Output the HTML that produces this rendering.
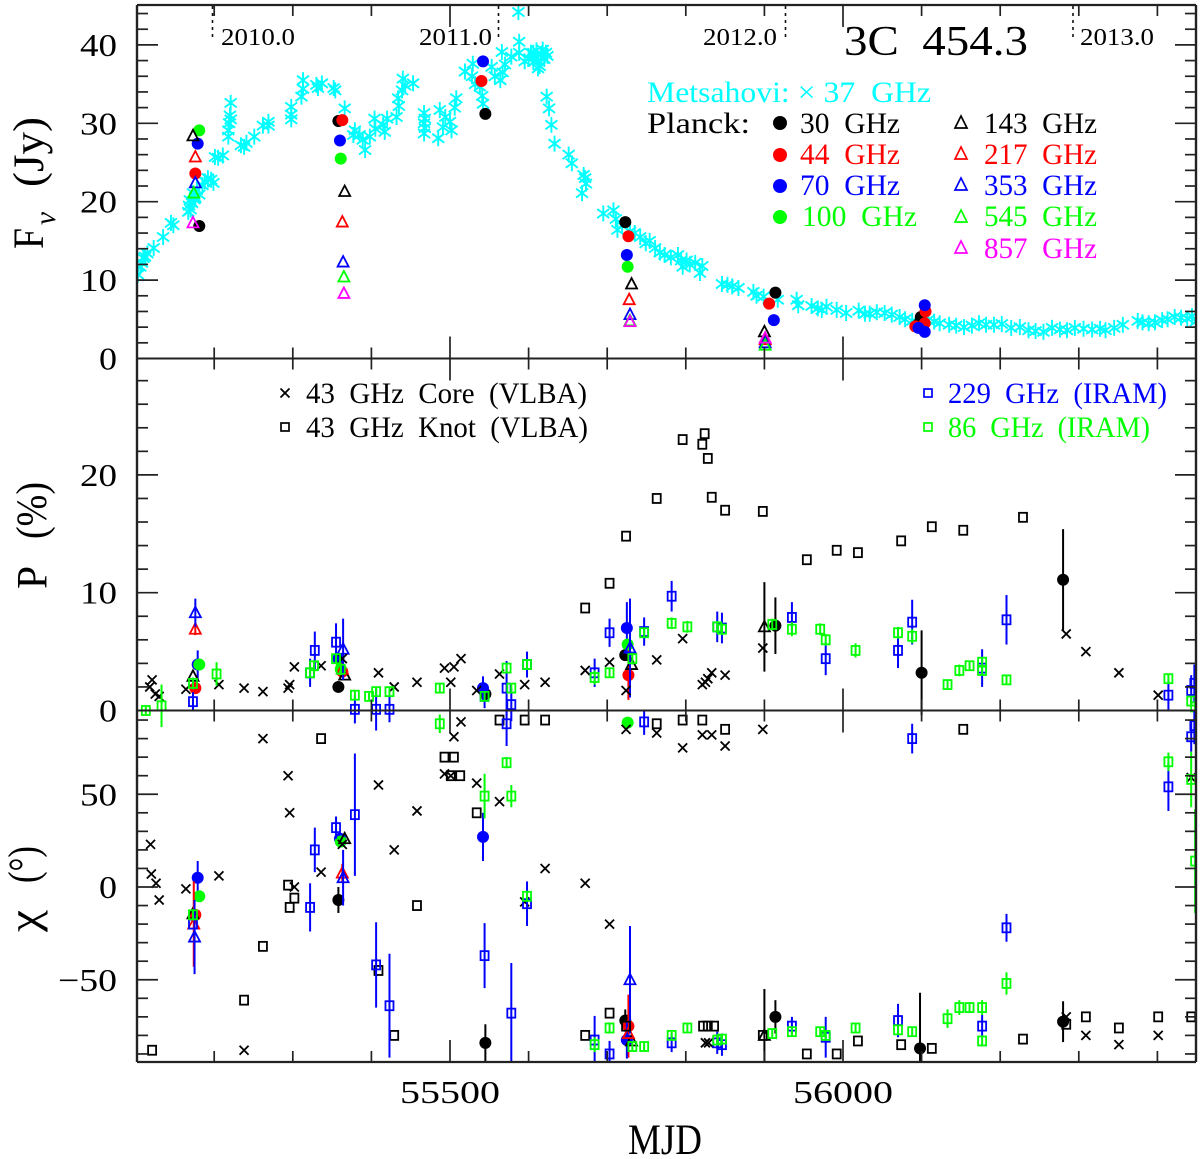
<!DOCTYPE html>
<html>
<head>
<meta charset="utf-8">
<title>3C 454.3 light curve and polarization</title>
<style>
html,body{margin:0;padding:0;background:#fff;}
svg{display:block;}
text{font-family:"Liberation Serif",serif;}
</style>
</head>
<body>
<svg id="chart" xmlns="http://www.w3.org/2000/svg" width="1200" height="1159" viewBox="0 0 1200 1159">
<defs>
<clipPath id="clip-frame"><rect x="137" y="5" width="1059" height="1057"/></clipPath>
<clipPath id="clip-chi"><rect x="137" y="710" width="1059" height="352"/></clipPath>
</defs>
<g id="marks-flux" clip-path="url(#clip-frame)"></g>
<g id="marks-pol" clip-path="url(#clip-frame)"></g>
<g id="marks-chi" clip-path="url(#clip-chi)"></g>
<g id="axes"></g>

<g stroke="#111" stroke-width="1.6" stroke-dasharray="3 4">
<line x1="212.5" y1="6" x2="212.5" y2="38"/>
<line x1="498.5" y1="6" x2="498.5" y2="38"/>
<line x1="785.5" y1="6" x2="785.5" y2="38"/>
<line x1="1073" y1="6" x2="1073" y2="38"/>
</g>
<text x="221" y="45" font-size="24" textLength="74" lengthAdjust="spacingAndGlyphs">2010.0</text>
<text x="419" y="45" font-size="24" textLength="73" lengthAdjust="spacingAndGlyphs">2011.0</text>
<text x="703" y="45" font-size="24" textLength="74" lengthAdjust="spacingAndGlyphs">2012.0</text>
<text x="1080" y="45" font-size="24" textLength="74" lengthAdjust="spacingAndGlyphs">2013.0</text>
<text x="844" y="55" font-size="42" textLength="184" lengthAdjust="spacingAndGlyphs" xml:space="preserve">3C  454.3</text>

<g font-size="30">
<text x="647" y="102" fill="#00ffff" textLength="284" lengthAdjust="spacingAndGlyphs" xml:space="preserve">Metsahovi: × 37  GHz</text>
<text x="647" y="133" textLength="103" lengthAdjust="spacingAndGlyphs">Planck:</text>
<circle cx="780" cy="123" r="7" fill="#000"/>
<text x="800" y="133" textLength="100" lengthAdjust="spacingAndGlyphs" xml:space="preserve">30  GHz</text>
<circle cx="780" cy="155" r="7" fill="#f00"/>
<text x="800" y="164" fill="#f00" textLength="100" lengthAdjust="spacingAndGlyphs" xml:space="preserve">44  GHz</text>
<circle cx="780" cy="186" r="7" fill="#00f"/>
<text x="800" y="195" fill="#00f" textLength="100" lengthAdjust="spacingAndGlyphs" xml:space="preserve">70  GHz</text>
<circle cx="780" cy="217" r="7" fill="#0f0"/>
<text x="802" y="226" fill="#0f0" textLength="115" lengthAdjust="spacingAndGlyphs" xml:space="preserve">100  GHz</text>
<polygon points="961,116 967,128 955,128" fill="none" stroke="#000" stroke-width="1.7"/>
<text x="984" y="133" textLength="113" lengthAdjust="spacingAndGlyphs" xml:space="preserve">143  GHz</text>
<polygon points="961,147 967,159 955,159" fill="none" stroke="#f00" stroke-width="1.7"/>
<text x="984" y="164" fill="#f00" textLength="113" lengthAdjust="spacingAndGlyphs" xml:space="preserve">217  GHz</text>
<polygon points="961,178 967,190 955,190" fill="none" stroke="#00f" stroke-width="1.7"/>
<text x="984" y="195" fill="#00f" textLength="113" lengthAdjust="spacingAndGlyphs" xml:space="preserve">353  GHz</text>
<polygon points="961,210 967,222 955,222" fill="none" stroke="#0f0" stroke-width="1.7"/>
<text x="984" y="226" fill="#0f0" textLength="113" lengthAdjust="spacingAndGlyphs" xml:space="preserve">545  GHz</text>
<polygon points="961,241 967,253 955,253" fill="none" stroke="#f0f" stroke-width="1.7"/>
<text x="984" y="258" fill="#f0f" textLength="113" lengthAdjust="spacingAndGlyphs" xml:space="preserve">857  GHz</text>
</g>

<g font-size="30">
<path d="M280.5 388.5l9 9m0-9l-9 9" stroke="#000" stroke-width="1.8" fill="none"/>
<text x="306" y="403" textLength="281" lengthAdjust="spacingAndGlyphs" xml:space="preserve">43  GHz  Core  (VLBA)</text>
<rect x="281" y="423" width="8" height="8" fill="none" stroke="#000" stroke-width="1.7"/>
<text x="306" y="437" textLength="282" lengthAdjust="spacingAndGlyphs" xml:space="preserve">43  GHz  Knot  (VLBA)</text>
<rect x="924" y="389" width="8" height="8" fill="none" stroke="#00f" stroke-width="1.7"/>
<text x="948" y="403" fill="#00f" textLength="219" lengthAdjust="spacingAndGlyphs" xml:space="preserve">229  GHz  (IRAM)</text>
<rect x="924" y="423" width="8" height="8" fill="none" stroke="#0f0" stroke-width="1.7"/>
<text x="948" y="437" fill="#0f0" textLength="202" lengthAdjust="spacingAndGlyphs" xml:space="preserve">86  GHz  (IRAM)</text>
</g>

<g>
<g>
<text transform="translate(43,249) rotate(-90)" font-size="43" textLength="21" lengthAdjust="spacingAndGlyphs">F</text>
<text transform="translate(55,225) rotate(-90)" font-size="30" font-style="italic" textLength="13" lengthAdjust="spacingAndGlyphs">ν</text>
<text transform="translate(43,187) rotate(-90)" font-size="43" textLength="70" lengthAdjust="spacingAndGlyphs">(Jy)</text>
</g>
<g>
<text transform="translate(46.5,589) rotate(-90)" font-size="43" textLength="23" lengthAdjust="spacingAndGlyphs">P</text>
<text transform="translate(46,539) rotate(-90)" font-size="43" textLength="57" lengthAdjust="spacingAndGlyphs">(%)</text>
</g>
<g>
<text transform="translate(38,932) rotate(-90)" font-size="43" textLength="22" lengthAdjust="spacingAndGlyphs">χ</text>
<text transform="translate(38,883) rotate(-90)" font-size="43" textLength="37" lengthAdjust="spacingAndGlyphs">(°)</text>
</g>
<text x="628" y="1154" font-size="43" textLength="74" lengthAdjust="spacingAndGlyphs">MJD</text>
</g>

<script>
// ---- tick values ----
const mjdMajorTicks = [55500, 56000];
const mjdTickLabels = ["55500", "56000"];
const mjdMinorStep = 100;
const fluxTickValues = [0, 10, 20, 30, 40];
const polTickValues = [0, 10, 20];
const chiTickValues = [-50, 0, 50];

// ---- Metsahovi 37 GHz: [MJD, Jy] ----
const metsahovi = [[55103,10.7],[55106,11.7],[55108,12.2],[55110,12.8],[55112,13],[55115,13.4],[55123,14.1],[55135,15.5],[55145,17.3],[55148,17],[55167,18.7],[55168,19.5],[55169,20.2],[55170,19],[55172,19.8],[55173,21.1],[55175,20.3],[55176,20.5],[55178,21.5],[55181,20.9],[55185,22.1],[55188,22.6],[55192,23],[55196,22.8],[55199,22.4],[55201,25.7],[55205,25.6],[55211,25.9],[55218,28.3],[55218,29.1],[55219,30],[55220,31],[55221,30.5],[55221,32.6],[55234,27.2],[55238,27],[55241,27.5],[55251,28.3],[55262,29.7],[55269,30.2],[55269,29.7],[55298,31.1],[55298,30.5],[55298,32.1],[55311,33.4],[55313,35.5],[55313,34.4],[55330,34.9],[55332,34.5],[55337,35.1],[55352,34.5],[55354,34.2],[55366,31.9],[55377,28.5],[55379,29.1],[55385,28.5],[55389,27.9],[55392,26.6],[55398,28.3],[55404,30.6],[55405,29.3],[55415,29.8],[55417,28.9],[55420,30.6],[55432,30.8],[55434,33.2],[55435,32.2],[55439,34.2],[55440,35.7],[55443,34.8],[55453,35.1],[55467,31.3],[55467,30],[55467,28.7],[55468,29.4],[55468,30.6],[55485,28.1],[55487,31.7],[55491,29.5],[55494,30.8],[55500,30.2],[55502,29.1],[55506,32],[55508,33.2],[55519,36.6],[55528,36],[55529,37.6],[55532,35],[55538,34.7],[55541,33.5],[55542,32.5],[55553,37.2],[55557,36],[55564,35.5],[55566,39.1],[55567,36.5],[55570,37.5],[55578,38.5],[55587,44.2],[55588,40.4],[55588,39],[55595,37.9],[55600,38.2],[55603,39],[55606,37.8],[55606,39],[55608,38.5],[55610,39.3],[55612,38],[55612,37],[55614,37.3],[55616,38.8],[55618,39.4],[55620,38.2],[55622,39],[55624,38.6],[55623,33.4],[55626,31.9],[55629,29.8],[55633,27.4],[55651,26],[55655,24.9],[55668,21.1],[55670,23.4],[55672,23],[55673,22.3],[55695,18.5],[55708,18.9],[55711,17.8],[55713,16.4],[55719,17],[55729,16.2],[55735,16],[55742,15.5],[55749,14.7],[55754,15],[55761,14.1],[55767,13.5],[55773,13.2],[55781,12.9],[55790,13.2],[55794,12.5],[55796,11.7],[55801,12.5],[55805,12],[55812,12.2],[55818,10.9],[55821,11.8],[55846,9.5],[55853,9.4],[55859,9.2],[55867,9],[55886,8.5],[55890,8],[55899,7.9],[55917,7.5],[55941,7.5],[55943,6.8],[55960,6.7],[55968,6.4],[55973,6.2],[55979,6.6],[55992,6.2],[56004,5.8],[56020,6.1],[56028,5.7],[56034,5.7],[56043,5.9],[56053,5.8],[56062,5.6],[56072,5.3],[56079,5],[56088,4.8],[56108,4.9],[56116,4.7],[56123,4.5],[56135,4.3],[56144,4.2],[56154,4],[56164,4.2],[56173,4.5],[56182,4.3],[56192,4.3],[56202,4.4],[56214,3.9],[56225,4],[56236,3.6],[56245,3.5],[56255,3.4],[56266,3.9],[56276,3.7],[56285,3.6],[56295,3.9],[56306,3.8],[56317,3.7],[56327,3.8],[56334,3.6],[56345,3.9],[56356,4.3],[56375,4.8],[56381,4.6],[56389,4.5],[56397,4.6],[56406,4.9],[56413,5],[56422,5.3],[56430,5.2],[56438,5.1],[56444,5.4],[56449,4.7]];

// ---- Planck flux density: [MJD, Jy] ----
const flux30 = [[55181,16.9],[55358,30.3],[55545,31.2],[55723,17.4],[55914,8.4],[56099,5.3],[56096,4.4]];
const flux44 = [[55176,23.6],[55363,30.4],[55540,35.4],[55727,15.6],[55906,7],[56105,6],[56104,4.5],[56092,4.1]];
const flux70 = [[55179,27.4],[55360,27.8],[55542,37.9],[55725,13.2],[55912,4.9],[56104,6.8],[56096,3.9],[56104,3.4]];
const flux100 = [[55181,29.1],[55361,25.5],[55726,11.7]];
const flux143 = [[55173,28.4],[55366,21.3],[55731,9.5],[55900,3.4]];
const flux217 = [[55176,25.7],[55363,17.4],[55728,7.5],[55901,2.4]];
const flux353 = [[55176,22.4],[55364,12.3],[55729,5.6],[55901,2]];
const flux545 = [[55174,21.1],[55365,10.4],[55729,4.8],[55901,1.7]];
const flux857 = [[55173,17.3],[55365,8.3],[55729,4.7],[55901,2.6]];

// ---- Planck polarization fraction: [MJD, %, error] ----
const pol30 = [[55358,2,0],[55545,1.4,0],[55723,4.7,0],[55914,7.2,2.4],[56100,3.2,3.6],[56280,11.1,4.3]];
const pol44 = [[55176,1.9,0],[55363,3.3,0],[55727,3,2.1]];
const pol70 = [[55179,3.9,1.2],[55358,4.4,0],[55542,1.9,1],[55725,7,2.2]];
const pol100 = [[55181,3.9,0],[55361,3.5,0],[55726,5.6,0]];
const pol143 = [[55173,2.9,0],[55366,3,0],[55731,3.9,0],[55900,7.1,3.8]];
const pol217 = [[55176,6.9,0.5],[55363,3.5,0]];
const pol353 = [[55176,8.3,1.2],[55364,5.2,2.6],[55729,5.3,4.2]];

// ---- Planck polarization angle: [MJD, deg, error] ----
const chi30 = [[55358,-7,7],[55545,-84,10],[55723,-72,6],[55914,-70,9],[56098,-87,30],[56280,-72.6,11]];
const chi44 = [[55176,-15,0],[55727,-75,17]];
const chi70 = [[55179,5,9],[55360,26,0],[55542,27,13],[55725,-82.5,10]];
const chi100 = [[55181,-5,0],[55361,24.5,0],[55726,88.6,3]];
const chi143 = [[55173,-14.5,0],[55366,26,0],[55731,-83,0],[55900,-80,25]];
const chi217 = [[55174,-20,23],[55363,7.5,5],[55727,-79,0]];
const chi353 = [[55175,-27,20],[55364,5,15],[55729,-50,29]];

// ---- VLBA 43 GHz: [MJD, value] ----
const polCore = [[55118,2],[55121,2.6],[55125,1.4],[55130,1.2],[55164,1.8],[55206,2.2],[55238,1.9],[55262,1.6],[55294,1.9],[55296,2.2],[55302,3.7],[55336,3.8],[55363,4.4],[55409,3.2],[55429,2],[55458,2.4],[55493,3.6],[55501,2.4],[55505,3.7],[55514,4.4],[55534,1.7],[55563,3.1],[55595,2.2],[55621,2.4],[55672,3.4],[55703,4.1],[55724,1.7],[55763,4.3],[55796,6.1],[55821,2.2],[55825,2.4],[55828,2.7],[55833,3.2],[55850,3],[55898,5.3],[56284,6.5],[56309,5],[56351,3.2],[56401,1.3]];
const polKnot = [[55672,8.7],[55703,10.8],[55724,14.8],[55763,18],[55796,23],[55821,22.6],[55824,23.5],[55828,21.4],[55833,18.1],[55850,17],[55898,16.9],[55954,12.8],[55992,13.6],[56019,13.4],[56074,14.4],[56113,15.6],[56153,15.3],[56229,16.4]];
const chiCore = [[55119,23],[55120,7],[55126,2],[55130,-7],[55164,-1],[55206,6],[55238,-88],[55262,80],[55294,60],[55296,40],[55302,0],[55336,8],[55363,23],[55409,55],[55429,20],[55458,41],[55493,61],[55501,60],[55505,81],[55514,89],[55534,56],[55563,46],[55595,-8],[55621,10],[55672,2],[55703,-20],[55724,85],[55763,83],[55796,75],[55821,82],[55833,82],[55850,76],[55825,-84],[55829,-84],[55898,85],[56284,-70],[56309,-80],[56351,-85],[56401,-80],[56443,59]];
const chiKnot = [[55121,-88],[55238,-61],[55262,-32],[55294,1],[55296,-11],[55302,-6],[55336,80],[55409,-45],[55429,-80],[55458,-10],[55493,70],[55505,70],[55501,60],[55513,60],[55534,40],[55563,90],[55595,90],[55621,90],[55672,-80],[55703,-68],[55724,-75],[55763,88],[55796,90],[55821,90],[55850,85],[55822,-75],[55828,-75],[55836,-75],[55898,-80],[55954,-90],[55992,-90],[56019,-83],[56074,-85],[56113,-87],[56153,85],[56229,-82],[56284,-74],[56309,-70],[56351,-76],[56401,-70],[56443,-70]];

// ---- IRAM: [MJD, value, error] ----
const pol229 = [[55173,0.75,0.8],[55322,3.2,1.2],[55328,5.1,1.6],[55355,5.8,1.6],[55379,0.1,1.2],[55406,0.1,1.8],[55423,0.1,1.1],[55544,1.2,1],[55572,1.9,2.3],[55578,0.5,1.4],[55598,3.9,1.1],[55684,3.2,1.2],[55703,6.6,1.2],[55747,6.7,1.2],[55782,9.7,1.3],[55840,7.1,1.3],[55846,7,1.3],[55935,7.9,1.3],[55978,4.4,1.4],[56070,5.1,1.5],[56088,7.5,1.9],[56177,3.6,1.6],[56208,7.7,2.1],[56414,1.3,1.3],[56443,1.7,1.3],[56447,2.3,1.6]];
const pol86 = [[55113,0,0.3],[55133,0.4,1.8],[55173,2.3,0.5],[55203,3.1,1],[55322,3.2,0.4],[55327,3.8,0.4],[55355,4.4,0.4],[55361,3.5,0.5],[55379,1.3,0.4],[55397,1.2,0.3],[55406,1.6,0.4],[55423,1.6,0.4],[55487,1.9,0.4],[55544,1.2,0.4],[55572,3.6,0.4],[55578,1.9,0.4],[55598,3.9,0.4],[55684,2.8,0.6],[55703,3.2,0.4],[55732,4.4,0.5],[55747,6.6,0.4],[55782,7.4,0.5],[55802,7.1,0.5],[55840,7.1,0.5],[55846,6.9,0.5],[55910,7.3,0.5],[55935,6.9,0.6],[55971,6.9,0.5],[55978,6,0.5],[56016,5.1,0.6],[56070,6.6,0.5],[56088,6.3,0.6],[56133,2.2,0.4],[56148,3.4,0.5],[56161,3.8,0.4],[56177,4.1,0.4],[56177,3.4,0.4],[56208,2.6,0.4],[56414,2.7,0.4],[56443,0.8,0.4],[56448,0.3,0.4]];
const chi229 = [[55173,-20,0],[55322,-11,13],[55328,20,12],[55355,32,6],[55379,39,33],[55406,-42,23],[55423,-64,28],[55544,-37,17.5],[55572,88,12],[55578,-68,27],[55598,-9,12],[55684,-82.5,13],[55703,-90,7],[55747,89,7],[55782,-84,5],[55840,-84,6],[55846,-85,6],[55935,-75,5],[55978,-81,11],[56070,-72,9],[56088,80,8],[56177,-75,6],[56208,-22,7.5],[56414,54,13],[56443,81,8],[56447,87,10]];
const chi86 = [[55173,-15,3],[55487,88,5],[55544,49,12],[55572,67,3],[55578,49,6],[55598,-5,3],[55684,-85,4],[55703,-76,3],[55732,-86,2],[55747,-86,2],[55782,-80,2],[55802,-76,2],[55840,-82.5,2],[55846,-82,2],[55910,-79,2],[55935,-78,2],[55971,-78,2],[55978,-80,2],[56016,-76,2],[56070,-77,2],[56088,-78,2],[56133,-71,5],[56148,-65,4],[56161,-65,3],[56177,-65,4],[56177,-83,3],[56208,-52,6],[56414,67.5,5],[56443,58,15],[56448,14,28]];

// ---- axis functions ----
function xScale(mjd) { return 450 + (mjd - 55500) * 0.786; }
function yFlux(v) { return 358.5 - v * 7.84; }
function yPol(v) { return 710.5 - v * 11.78; }
function yChi(v) { return 887 - v * 1.855; }

const NS = "http://www.w3.org/2000/svg";
const RED = "#ff0000", BLUE = "#0000ff", GREEN = "#00ff00", BLACK = "#000000", MAGENTA = "#ff00ff", CYAN = "#00ffff";

function svgEl(parent, tag, attrs, name) {
  const el = document.createElementNS(NS, tag);
  for (const k in attrs) el.setAttribute(k, attrs[k]);
  
  
  parent.appendChild(el);
  return el;
}
function errorBar(parent, x, y1, y2, color, name) {
  svgEl(parent, "line", {x1: x, x2: x, y1: y1, y2: y2, stroke: color, "stroke-width": 2}, name + "-error-bar");
}
function circleMark(parent, x, y, color, name) {
  svgEl(parent, "circle", {cx: x, cy: y, r: 6, fill: color}, name);
}
function triangleMark(parent, x, y, color, name) {
  const p = (x) + "," + (y - 6) + " " + (x + 5.5) + "," + (y + 4.5) + " " + (x - 5.5) + "," + (y + 4.5);
  svgEl(parent, "polygon", {points: p, fill: "none", stroke: color, "stroke-width": 1.8}, name);
}
function squareMark(parent, x, y, color, name) {
  svgEl(parent, "rect", {x: x - 4, y: y - 4.5, width: 8, height: 9, fill: "none", stroke: color, "stroke-width": 1.8}, name);
}
function crossMark(parent, x, y, color, name) {
  const d = "M" + (x - 4.5) + " " + (y - 4.5) + "l9 9m0-9l-9 9";
  svgEl(parent, "path", {d: d, fill: "none", stroke: color, "stroke-width": 1.8}, name);
}
function asteriskMark(parent, x, y, color, name) {
  const d = "M" + x + " " + (y - 8) + "v16M" + (x - 6) + " " + (y - 4.5) + "l12 9m0-9l-12 9";
  svgEl(parent, "path", {d: d, fill: "none", stroke: color, "stroke-width": 1.9}, name);
}
function plotSeries(parent, rows, yFn, shape, color, name) {
  rows.forEach(function (r) {
    const x = xScale(r[0]);
    const y = yFn(r[1]);
    if (r.length > 2 && r[2] > 0) errorBar(parent, x, yFn(r[1] + r[2]), yFn(r[1] - r[2]), color, name);
    shape(parent, x, y, color, name);
  });
}

// ---- flux panel ----
const gFlux = document.getElementById("marks-flux");
plotSeries(gFlux, metsahovi, yFlux, asteriskMark, CYAN, "metsahovi-37ghz-point");
plotSeries(gFlux, flux30, yFlux, circleMark, BLACK, "flux-30ghz-point");
plotSeries(gFlux, flux44, yFlux, circleMark, RED, "flux-44ghz-point");
plotSeries(gFlux, flux70, yFlux, circleMark, BLUE, "flux-70ghz-point");
plotSeries(gFlux, flux100, yFlux, circleMark, GREEN, "flux-100ghz-point");
plotSeries(gFlux, flux143, yFlux, triangleMark, BLACK, "flux-143ghz-point");
plotSeries(gFlux, flux217, yFlux, triangleMark, RED, "flux-217ghz-point");
plotSeries(gFlux, flux353, yFlux, triangleMark, BLUE, "flux-353ghz-point");
plotSeries(gFlux, flux545, yFlux, triangleMark, GREEN, "flux-545ghz-point");
plotSeries(gFlux, flux857, yFlux, triangleMark, MAGENTA, "flux-857ghz-point");

// ---- polarization panel ----
const gPol = document.getElementById("marks-pol");
plotSeries(gPol, pol30, yPol, circleMark, BLACK, "pol-30ghz-point");
plotSeries(gPol, pol44, yPol, circleMark, RED, "pol-44ghz-point");
plotSeries(gPol, pol70, yPol, circleMark, BLUE, "pol-70ghz-point");
plotSeries(gPol, pol100, yPol, circleMark, GREEN, "pol-100ghz-point");
plotSeries(gPol, pol143, yPol, triangleMark, BLACK, "pol-143ghz-point");
plotSeries(gPol, pol217, yPol, triangleMark, RED, "pol-217ghz-point");
plotSeries(gPol, pol353, yPol, triangleMark, BLUE, "pol-353ghz-point");
plotSeries(gPol, polCore, yPol, crossMark, BLACK, "pol-core-point");
plotSeries(gPol, polKnot, yPol, squareMark, BLACK, "pol-knot-point");
plotSeries(gPol, pol229, yPol, squareMark, BLUE, "pol-229ghz-point");
plotSeries(gPol, pol86, yPol, squareMark, GREEN, "pol-86ghz-point");

// ---- polarization angle panel ----
const gChi = document.getElementById("marks-chi");
plotSeries(gChi, chi30, yChi, circleMark, BLACK, "chi-30ghz-point");
plotSeries(gChi, chi44, yChi, circleMark, RED, "chi-44ghz-point");
plotSeries(gChi, chi70, yChi, circleMark, BLUE, "chi-70ghz-point");
plotSeries(gChi, chi100, yChi, circleMark, GREEN, "chi-100ghz-point");
plotSeries(gChi, chi143, yChi, triangleMark, BLACK, "chi-143ghz-point");
plotSeries(gChi, chi217, yChi, triangleMark, RED, "chi-217ghz-point");
plotSeries(gChi, chi353, yChi, triangleMark, BLUE, "chi-353ghz-point");
plotSeries(gChi, chiCore, yChi, crossMark, BLACK, "chi-core-point");
plotSeries(gChi, chiKnot, yChi, squareMark, BLACK, "chi-knot-point");
plotSeries(gChi, chi229, yChi, squareMark, BLUE, "chi-229ghz-point");
plotSeries(gChi, chi86, yChi, squareMark, GREEN, "chi-86ghz-point");

// ---- axes ----
const gAxes = document.getElementById("axes");
const AX = "#222222";
const xLeft = 137, xRight = 1196;
function axisLine(x1, y1, x2, y2, w, name) {
  svgEl(gAxes, "line", {x1: x1, y1: y1, x2: x2, y2: y2, stroke: AX, "stroke-width": w}, name);
}
axisLine(xLeft, 5, xRight, 5, 2.2, "frame-top");
axisLine(xLeft, 358.5, xRight, 358.5, 2, "panel-divider-flux-pol");
axisLine(xLeft, 710.5, xRight, 710.5, 2, "panel-divider-pol-chi");
axisLine(xLeft, 1062, xRight, 1062, 2.2, "frame-bottom");
axisLine(xLeft, 5, xLeft, 1062, 2.4, "frame-left");
axisLine(xRight, 5, xRight, 1062, 2.4, "frame-right");

const panelEdges = [[5, 1], [358.5, -1], [358.5, 1], [710.5, -1], [710.5, 1], [1062, -1]];
for (let m = mjdMajorTicks[0] - 3 * mjdMinorStep; xScale(m) < xRight; m += mjdMinorStep) {
  const major = mjdMajorTicks.indexOf(m) >= 0;
  panelEdges.forEach(function (e) {
    const len = major ? 22 : 11;
    axisLine(xScale(m), e[0], xScale(m), e[0] + e[1] * len, 1.7, "x-tick");
  });
}
mjdMajorTicks.forEach(function (m, i) {
  const t = svgEl(gAxes, "text", {x: xScale(m), y: 1103, "font-size": 32, "text-anchor": "middle", textLength: 100, lengthAdjust: "spacingAndGlyphs"}, "x-tick-label");
  t.textContent = mjdTickLabels[i];
});

function yAxisTicks(yFn, minV, maxV, minorStep, labels, fmtName) {
  for (let v = minV; v <= maxV + 1e-6; v += minorStep) {
    const y = yFn(v);
    const major = labels.indexOf(v) >= 0;
    const len = major ? 21 : 11;
    axisLine(xLeft, y, xLeft + len, y, 1.7, fmtName + "-tick-left");
    axisLine(xRight, y, xRight - len, y, 1.7, fmtName + "-tick-right");
  }
  labels.forEach(function (v) {
    const s = v < 0 ? "\u2212" + Math.abs(v) : String(v);
    const w = v < 0 ? 59 : (Math.abs(v) >= 10 ? 37 : 18);
    const t = svgEl(gAxes, "text", {x: 117, y: yFn(v) + 11, "font-size": 32, "text-anchor": "end", textLength: w, lengthAdjust: "spacingAndGlyphs"}, fmtName + "-tick-label");
    t.textContent = s;
  });
}
yAxisTicks(yFlux, 2, 44, 2, fluxTickValues.slice(1), "flux");
yAxisTicks(yPol, 2, 28, 2, polTickValues.slice(1), "pol");
yAxisTicks(yChi, -90, 90, 10, chiTickValues, "chi");

// shared zero labels for flux and polarization panels
const zeroFlux = svgEl(gAxes, "text", {x: 117, y: 369.5, "font-size": 32, "text-anchor": "end", textLength: 18, lengthAdjust: "spacingAndGlyphs"}, "flux-tick-label");
zeroFlux.textContent = String(fluxTickValues[0]);
const zeroPol = svgEl(gAxes, "text", {x: 117, y: 721.5, "font-size": 32, "text-anchor": "end", textLength: 18, lengthAdjust: "spacingAndGlyphs"}, "pol-tick-label");
zeroPol.textContent = String(polTickValues[0]);
</script>
</svg>
</body>
</html>
